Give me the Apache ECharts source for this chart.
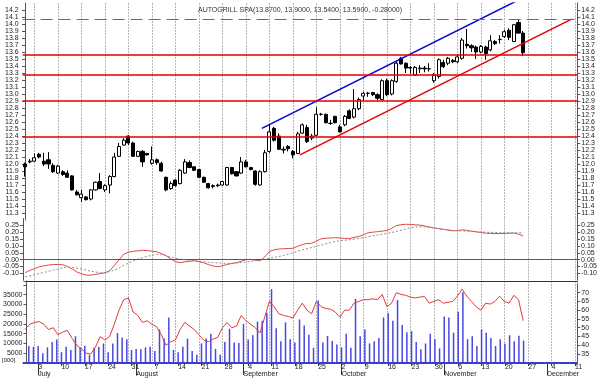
<!DOCTYPE html>
<html>
<head>
<meta charset="utf-8">
<title>AUTOGRILL SPA</title>
<script src="https://cdn.jsdelivr.net/npm/echarts@6/dist/echarts.min.js"></script>
<style>
  html, body { margin: 0; padding: 0; background: #fff; }
  #chart { width: 600px; height: 378px; }
</style>
</head>
<body>
<div id="chart"></div>
<script>
// axis days: weekdays from 29 Jun 2006, axis runs on to 11 Dec
var firstDay = '2006-06-29';
var dayCount = 118;
var monthNames = ['January', 'February', 'March', 'April', 'May', 'June', 'July',
                  'August', 'September', 'October', 'November', 'December'];

// daily candles [open, close, low, high]
var candles = [
  [12.00, 11.96, 11.82, 12.02], [12.03, 12.04, 12.01, 12.07], [12.04, 12.09, 12.03, 12.15],
  [12.14, 12.10, 12.08, 12.16], [12.04, 12.00, 11.97, 12.16], [12.06, 12.00, 11.93, 12.17],
  [11.98, 11.89, 11.87, 12.01], [11.87, 11.97, 11.86, 11.99], [11.89, 11.85, 11.83, 11.91],
  [11.87, 11.81, 11.80, 11.91], [11.83, 11.63, 11.62, 11.84], [11.60, 11.56, 11.55, 11.63],
  [11.52, 11.57, 11.46, 11.63], [11.53, 11.49, 11.48, 11.54], [11.50, 11.63, 11.48, 11.64],
  [11.63, 11.74, 11.62, 11.75], [11.75, 11.65, 11.64, 11.87], [11.63, 11.69, 11.60, 11.71],
  [11.70, 11.82, 11.58, 11.84], [11.82, 12.10, 11.81, 12.16], [12.11, 12.25, 12.10, 12.30],
  [12.27, 12.34, 12.26, 12.37], [12.40, 12.30, 12.27, 12.41], [12.30, 12.11, 12.10, 12.32],
  [12.11, 12.18, 12.10, 12.19], [12.18, 12.03, 11.96, 12.20], [12.15, 12.13, 12.12, 12.16],
  [12.01, 12.06, 11.99, 12.25], [12.06, 12.02, 11.99, 12.08], [12.01, 11.90, 11.89, 12.03],
  [11.81, 11.63, 11.61, 11.82], [11.65, 11.72, 11.63, 11.75], [11.77, 11.69, 11.68, 11.78],
  [11.72, 11.91, 11.71, 11.93], [11.87, 12.03, 11.86, 12.07], [12.02, 11.95, 11.94, 12.05],
  [11.96, 11.91, 11.90, 11.97], [11.92, 11.81, 11.80, 11.93], [11.81, 11.74, 11.73, 11.82],
  [11.72, 11.66, 11.65, 11.73], [11.69, 11.68, 11.65, 11.71], [11.69, 11.70, 11.67, 11.72],
  [11.70, 11.75, 11.69, 11.76], [11.70, 11.95, 11.69, 11.96], [11.95, 11.86, 11.85, 11.96],
  [11.89, 11.83, 11.82, 11.90], [11.87, 12.03, 11.86, 12.10], [12.03, 11.96, 11.95, 12.06],
  [11.95, 11.92, 11.91, 11.96], [11.90, 11.71, 11.69, 11.91], [11.70, 11.89, 11.69, 11.91],
  [11.89, 12.16, 11.88, 12.20], [12.18, 12.46, 12.16, 12.56], [12.51, 12.34, 12.32, 12.53],
  [12.40, 12.21, 12.20, 12.44], [12.20, 12.21, 12.15, 12.25], [12.25, 12.22, 12.18, 12.27],
  [12.18, 12.13, 12.08, 12.20], [12.15, 12.43, 12.14, 12.46], [12.44, 12.56, 12.43, 12.58],
  [12.52, 12.32, 12.30, 12.56], [12.37, 12.40, 12.34, 12.43], [12.41, 12.71, 12.40, 12.81],
  [12.71, 12.71, 12.69, 12.73], [12.71, 12.59, 12.58, 12.72], [12.58, 12.58, 12.56, 12.63],
  [12.68, 12.59, 12.58, 12.69], [12.53, 12.46, 12.45, 12.56], [12.56, 12.68, 12.54, 12.70],
  [12.76, 12.65, 12.64, 12.78], [12.67, 12.79, 12.65, 13.07], [12.79, 12.92, 12.77, 12.95],
  [12.97, 13.01, 12.90, 13.03], [13.01, 13.01, 12.96, 13.03], [13.02, 12.99, 12.97, 13.03],
  [12.99, 12.94, 12.91, 13.01], [12.92, 13.19, 12.91, 13.21], [13.19, 12.99, 12.97, 13.22],
  [13.00, 13.19, 12.98, 13.21], [13.18, 13.44, 13.16, 13.46], [13.51, 13.43, 13.42, 13.53],
  [13.44, 13.37, 13.30, 13.45], [13.38, 13.37, 13.29, 13.40], [13.27, 13.38, 13.26, 13.40],
  [13.36, 13.37, 13.30, 13.41], [13.37, 13.36, 13.31, 13.40], [13.36, 13.36, 13.32, 13.44],
  [13.19, 13.27, 13.16, 13.30], [13.25, 13.49, 13.22, 13.51], [13.45, 13.39, 13.37, 13.49],
  [13.44, 13.51, 13.41, 13.53], [13.48, 13.46, 13.44, 13.50], [13.46, 13.53, 13.44, 13.56],
  [13.51, 13.77, 13.49, 13.80], [13.71, 13.69, 13.65, 13.93], [13.69, 13.66, 13.60, 13.71],
  [13.67, 13.60, 13.50, 13.69], [13.60, 13.68, 13.58, 13.70], [13.67, 13.58, 13.49, 13.69],
  [13.63, 13.76, 13.61, 13.84], [13.75, 13.72, 13.70, 13.77], [13.78, 13.78, 13.72, 13.84],
  [13.82, 13.89, 13.80, 13.92], [13.91, 13.81, 13.77, 13.94], [13.75, 13.99, 13.74, 14.00],
  [14.02, 13.87, 13.86, 14.07], [13.87, 13.59, 13.54, 13.90]
];

// daily volume (shares)
var volume = [
  8700, 8300, 8700, 5000, 8000, 10800, 12000, 5500, 8300, 6700,
  13700, 8000, 8800, 4200, 7800, 8300, 10000, 5500, 10000, 15300,
  13000, 12200, 6700, 7200, 7000, 8000, 8300, 6200, 17200, 12500,
  23300, 6700, 5500, 8300, 12500, 6200, 4200, 10000, 12500, 15000,
  7200, 4200, 10800, 17500, 10500, 10300, 20000, 12000, 14200, 21200,
  21700, 25800, 37800, 17800, 11200, 20800, 12200, 10500, 22300, 19200,
  14500, 7800, 32000, 10500, 13800, 11300, 9500, 8000, 15000, 7800,
  32800, 13700, 17200, 10000, 11200, 12800, 23300, 25500, 21700, 32200,
  19500, 15800, 16300, 10800, 7000, 10000, 15000, 12200, 7500, 23800,
  23300, 15500, 26200, 36200, 12200, 13700, 8700, 17200, 15500, 12800,
  8700, 12200, 10000, 14200, 11200, 14000, 11500
];

// RSI drawn over the volume panel
var rsi = [
  49, 52, 53, 53.5, 52, 49, 50, 46, 47.5, 48.5,
  44, 40, 38, 35.5, 35, 39, 45, 43, 45, 52,
  60, 66, 67, 59, 57, 53, 54, 52, 50.5, 46,
  40, 42, 43, 49, 53, 51, 49, 46, 43, 42,
  43.5, 44.5, 50, 53, 50, 51, 57, 54, 52, 50,
  47, 56, 65, 62, 58, 57, 56.5, 55.5, 60, 64,
  60, 58, 65, 62, 61, 60.5, 59, 56, 60, 60,
  64, 65, 66, 66, 66.5, 66, 69, 62, 64, 70,
  69, 68.5, 67.5, 67, 67.5, 67.8, 64, 65, 66, 64,
  64.5, 65, 68, 72, 68, 65, 62, 60, 64, 63.5,
  65, 68, 65, 64, 68.5, 66, 54
];

// MACD and its signal line
var macd = [
  -0.095, -0.078, -0.066, -0.052, -0.045, -0.039, -0.036, -0.035, -0.038, -0.050,
  -0.068, -0.090, -0.104, -0.113, -0.113, -0.107, -0.102, -0.096, -0.080, -0.040,
  0.000, 0.040, 0.055, 0.061, 0.064, 0.068, 0.066, 0.062, 0.057, 0.045,
  0.028, 0.005, -0.015, -0.022, -0.016, -0.012, -0.008, -0.015, -0.023, -0.036,
  -0.046, -0.052, -0.045, -0.035, -0.028, -0.022, -0.012, 0.000, 0.002, -0.004,
  -0.008, 0.020, 0.060, 0.072, 0.077, 0.080, 0.081, 0.083, 0.097, 0.110,
  0.118, 0.119, 0.135, 0.152, 0.156, 0.158, 0.160, 0.158, 0.155, 0.153,
  0.162, 0.168, 0.182, 0.196, 0.200, 0.204, 0.208, 0.213, 0.228, 0.248,
  0.255, 0.258, 0.257, 0.254, 0.252, 0.246, 0.238, 0.232, 0.226, 0.221,
  0.216, 0.210, 0.212, 0.217, 0.214, 0.208, 0.203, 0.198, 0.193, 0.191,
  0.190, 0.190, 0.191, 0.192, 0.194, 0.186, 0.173
];
var signal = [
  -0.125, -0.118, -0.110, -0.101, -0.093, -0.085, -0.076, -0.068, -0.060, -0.055,
  -0.057, -0.062, -0.069, -0.077, -0.085, -0.091, -0.095, -0.094, -0.087, -0.076,
  -0.060, -0.040, -0.024, -0.010, 0.004, 0.015, 0.024, 0.032, 0.038, 0.036,
  0.030, 0.017, 0.010, 0.004, -0.001, -0.005, -0.009, -0.013, -0.016, -0.019,
  -0.022, -0.024, -0.026, -0.027, -0.027, -0.025, -0.022, -0.018, -0.013, -0.008,
  -0.004, 0.002, 0.010, 0.017, 0.023, 0.030, 0.040, 0.050, 0.062, 0.071,
  0.080, 0.088, 0.097, 0.106, 0.115, 0.124, 0.132, 0.137, 0.141, 0.145,
  0.149, 0.154, 0.160, 0.166, 0.173, 0.180, 0.186, 0.192, 0.198, 0.205,
  0.214, 0.224, 0.232, 0.238, 0.240, 0.238, 0.235, 0.231, 0.226, 0.221,
  0.217, 0.213, 0.211, 0.209, 0.208, 0.206, 0.204, 0.202, 0.200, 0.199,
  0.198, 0.197, 0.197, 0.196, 0.196, 0.196, 0.195
];

// horizontal levels and the trend channel ([day index, price])
var levels = [13.56, 13.27, 12.90, 12.39];
var topLevel = 14.07;
var upperTrend = [[50.4, 12.51], [104.9, 14.34]];
var lowerTrend = [[58.5, 12.13], [116.3, 14.07]];

function tradingDays(start, n) {
  var out = [];
  var d = new Date(start + 'T00:00:00Z');
  while (out.length < n) {
    var wd = d.getUTCDay();
    if (wd !== 0 && wd !== 6) out.push(d.toISOString().slice(0, 10));
    d.setUTCDate(d.getUTCDate() + 1);
  }
  return out;
}

var dates = tradingDays(firstDay, dayCount);
var isMonday = dates.map(function (s) { return new Date(s + 'T00:00:00Z').getUTCDay() === 1; });
var isMonthStart = dates.map(function (s, i) { return i > 0 && s.slice(5, 7) !== dates[i - 1].slice(5, 7); });
var firstMonday = isMonday.indexOf(true);

var font = 'Liberation Sans';
var txt = '#222';
var frame = '#555';

// panel boxes (shared by the data grids and the weekly-guide grids)
var L = 22.65, R = 22.75;
var dayW = (600 - L - R) / dayCount;
var panels = [
  { top: 3, height: 217 },
  { top: 218.5, height: 61.7 },
  { top: 281, height: 84 }
];

function plainCat(grid) {
  return {
    type: 'category', gridIndex: grid, data: dates, boundaryGap: true,
    axisLine: { show: false }, axisTick: { show: false }, axisLabel: { show: false },
    splitLine: { show: false }
  };
}

// weekly guides: a value axis counted in days from the first Monday
function guideAxis(grid) {
  return {
    type: 'value', gridIndex: grid, min: 0, max: dayCount - firstMonday - 0.5, interval: 5,
    axisLine: { show: false }, axisTick: { show: false }, axisLabel: { show: false },
    splitLine: { show: true, lineStyle: { color: '#b4b4b4', width: 1, type: [2, 1] } }
  };
}
function hiddenY(grid) {
  return { type: 'value', gridIndex: grid, min: 0, max: 1, show: false, splitLine: { show: false } };
}

function sideAxis(grid, pos, min, max, step, fmt, hideEnds) {
  return {
    type: 'value', gridIndex: grid, position: pos, min: min, max: max, interval: step,
    splitLine: { show: false },
    axisLine: { show: true, lineStyle: { color: frame, width: 1 } },
    axisTick: { show: true, length: 3, lineStyle: { color: frame } },
    axisLabel: {
      fontSize: 7, fontFamily: font, color: txt, margin: 4,
      showMinLabel: !hideEnds, showMaxLabel: !hideEnds,
      formatter: fmt
    }
  };
}

var fmt1 = function (v) { return v.toFixed(1); };
var fmt2 = function (v) { return v.toFixed(2); };
var fmtVol = function (v) { return (v === 0 || v >= 40000) ? '' : String(v); };
var fmtInt = function (v) { return String(Math.round(v)); };

var bottomDays = plainCat(2);
bottomDays.axisLine = { show: true, onZero: false, lineStyle: { color: '#333', width: 1 } };
bottomDays.axisTick = {
  show: true, alignWithLabel: true, length: 3,
  interval: function (i) { return isMonday[i]; }, lineStyle: { color: '#333' }
};
bottomDays.axisLabel = {
  show: true, interval: function (i) { return isMonday[i]; },
  formatter: function (v) { return String(Number(v.slice(8, 10))); },
  align: 'left', margin: 1, fontSize: 7, fontFamily: font, color: txt
};

var bottomMonths = {
  type: 'category', gridIndex: 2, data: dates, boundaryGap: true, position: 'bottom',
  axisLine: { show: false }, splitLine: { show: false },
  axisTick: {
    show: true, alignWithLabel: true, length: 12,
    interval: function (i) { return isMonthStart[i]; }, lineStyle: { color: '#333' }
  },
  axisLabel: {
    show: true, interval: function (i) { return isMonthStart[i]; },
    formatter: function (v) { return monthNames[Number(v.slice(5, 7)) - 1]; },
    align: 'left', margin: 8, fontSize: 7, fontFamily: font, color: txt
  }
};

var volumeTop = {
  type: 'category', gridIndex: 2, data: dates, position: 'top',
  axisLine: { show: true, onZero: false, lineStyle: { color: '#333', width: 1 } },
  axisTick: { show: false }, axisLabel: { show: false }, splitLine: { show: false }
};

var noLabel = { silent: true, symbol: ['none', 'none'], label: { show: false } };

var grids = [
  { left: L, right: R, top: panels[0].top, height: panels[0].height },
  { left: L, right: R, top: panels[1].top, height: panels[1].height },
  { left: L, right: R, top: panels[2].top, height: panels[2].height },
  { left: L, right: R, top: 283.9, height: 78.9 }
];
// guide grids start at the first Monday
panels.forEach(function (p) {
  grids.push({ left: L + (firstMonday + 0.5) * dayW, right: R, top: p.top, height: p.height });
});

// empty carriers so every guide grid owns a series
var guideSeries = [7, 8, 9].map(function (ax, k) {
  return { type: 'line', xAxisIndex: ax, yAxisIndex: 6 + k, data: [], silent: true, z: 0 };
});

var chart = echarts.init(document.getElementById('chart'), null, { renderer: 'canvas' });

chart.setOption({
  animation: false,
  backgroundColor: '#fff',
  textStyle: { fontFamily: font },
  title: {
    text: 'AUTOGRILL SPA(13.8700, 13.9000, 13.5400, 13.5900, -0.28000)',
    left: 'center', top: 2,
    textStyle: { fontSize: 7, fontWeight: 'normal', color: '#333', fontFamily: font }
  },
  grid: grids,
  xAxis: [
    plainCat(0),
    { type: 'value', gridIndex: 0, min: -0.5, max: dayCount - 0.5, show: false },
    plainCat(1),
    bottomDays,
    bottomMonths,
    { type: 'category', gridIndex: 3, data: dates, show: false },
    volumeTop,
    guideAxis(4),
    guideAxis(5),
    guideAxis(6)
  ],
  yAxis: [
    sideAxis(0, 'left', 11.2, 14.3, 0.1, fmt1, true),
    sideAxis(0, 'right', 11.2, 14.3, 0.1, fmt1, true),
    sideAxis(1, 'left', -0.15, 0.30, 0.05, fmt2, true),
    sideAxis(1, 'right', -0.15, 0.30, 0.05, fmt2, true),
    sideAxis(2, 'left', 0, 42000, 5000, fmtVol, false),
    sideAxis(3, 'right', 30, 75, 5, fmtInt, true),
    hiddenY(4),
    hiddenY(5),
    hiddenY(6)
  ],
  series: guideSeries.concat([
    {
      name: 'AUTOGRILL SPA', type: 'candlestick', xAxisIndex: 0, yAxisIndex: 0,
      data: candles, barWidth: 3.6, z: 3,
      itemStyle: { color: '#fff', color0: '#000', borderColor: '#000', borderColor0: '#000', borderWidth: 1 },
      markLine: Object.assign({}, noLabel, {
        data: levels.map(function (v) {
          return { yAxis: v, lineStyle: { color: '#e00000', width: 1.6, type: 'solid' } };
        }).concat([{ yAxis: topLevel, lineStyle: { color: '#5a5af0', width: 1, type: [12, 6] } }])
      })
    },
    {
      name: 'upper trend', type: 'line', xAxisIndex: 1, yAxisIndex: 0, data: upperTrend,
      symbol: 'none', clip: true, z: 4, lineStyle: { color: '#0000d8', width: 1.5 }
    },
    {
      name: 'lower trend', type: 'line', xAxisIndex: 1, yAxisIndex: 0, data: lowerTrend,
      symbol: 'none', clip: true, z: 4, lineStyle: { color: '#e80000', width: 1.5 }
    },
    {
      name: 'MACD', type: 'line', xAxisIndex: 2, yAxisIndex: 2, data: macd,
      symbol: 'none', lineStyle: { color: '#e04848', width: 1 },
      markLine: Object.assign({}, noLabel, {
        data: [{ yAxis: 0, lineStyle: { color: '#4a4ad0', width: 1, type: 'solid' } }]
      })
    },
    {
      name: 'signal', type: 'line', xAxisIndex: 2, yAxisIndex: 2, data: signal,
      symbol: 'none', lineStyle: { color: '#8c8c8c', width: 1, type: [2, 2] }
    },
    {
      name: 'volume', type: 'bar', xAxisIndex: 3, yAxisIndex: 4, data: volume,
      barWidth: 1.5, itemStyle: { color: '#4848e0' }
    },
    {
      name: 'RSI', type: 'line', xAxisIndex: 5, yAxisIndex: 5, data: rsi,
      symbol: 'none', lineStyle: { color: '#e03a3a', width: 1 },
      markLine: Object.assign({}, noLabel, {
        data: [{ yAxis: 30, lineStyle: { color: '#3c3cd0', width: 2, type: 'solid' } }]
      })
    }
  ]),
  graphic: [
    {
      type: 'text', left: 2, top: 357,
      style: { text: '[000]', fontSize: 6, fontFamily: font, fill: txt }
    }
  ]
});
</script>
</body>
</html>
